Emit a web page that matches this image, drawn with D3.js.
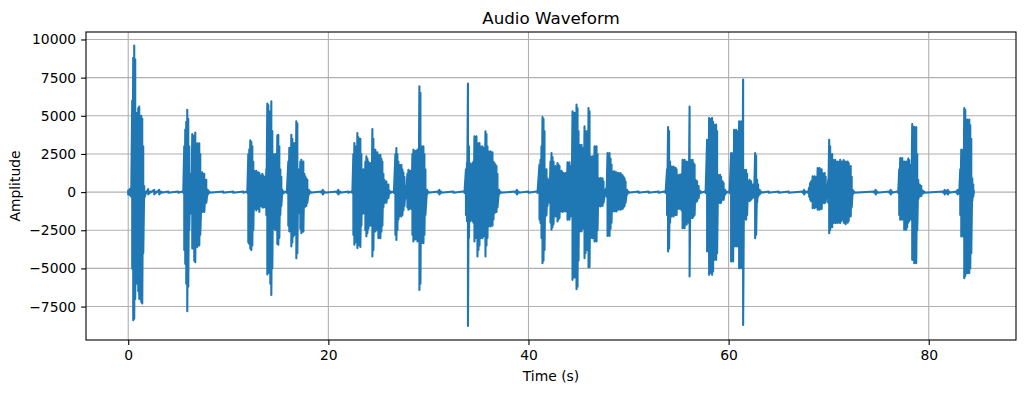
<!DOCTYPE html>
<html>
<head>
<meta charset="utf-8">
<script src="https://cdnjs.cloudflare.com/ajax/libs/d3/7.8.5/d3.min.js"></script>
<style>
  body { margin: 0; background: #fff; }
  text { font-family: "DejaVu Sans", sans-serif; fill: #000; }
</style>
</head>
<body>
<script>
// envelope of the waveform: [time s, max, min]
let envelope = [
  [0.0,150,-150],[0.15,200,-200],[0.3,300,-300],
  [0.4,6000,-5000],[0.5,8800,-8400],[0.6,9600,-8300],[0.7,8700,-7000],[0.8,5200,-6000],[0.9,4500,-5000],
  [1.0,5500,-6500],[1.1,5600,-7000],[1.2,4000,-5500],[1.3,5000,-7200],[1.4,4800,-7300],[1.5,3000,-4000],[1.6,400,-400],
  [1.8,40,-40],[2.0,200,-150],[2.2,40,-40],[2.6,150,-150],[2.8,40,-40],[3.1,150,-150],[3.3,40,-40],[4.0,40,-40],[5.0,40,-40],[5.5,50,-50],
  [5.6,3000,-3800],[5.7,4100,-4700],[5.8,4600,-6000],[5.9,5400,-7800],[6.0,4800,-6200],[6.1,3000,-2500],[6.2,800,-800],[6.3,1200,-1400],
  [6.4,3800,-3700],[6.5,3500,-3000],[6.6,3700,-4500],[6.7,3900,-4600],[6.8,3000,-3300],[6.9,3200,-3600],[7.0,2800,-3000],[7.1,3200,-3500],
  [7.2,2500,-2800],[7.4,1300,-1300],[7.6,1200,-1300],[7.8,800,-700],[7.95,150,-150],
  [8.1,40,-40],[9.5,40,-40],[10.5,40,-40],[11.5,40,-40],[11.9,60,-60],
  [12.0,2500,-3300],[12.1,2800,-3400],[12.2,3400,-3700],[12.3,3300,-3800],[12.4,3000,-3500],[12.5,2000,-2500],[12.6,1400,-1100],
  [12.7,1200,-1000],[12.8,1400,-1200],[12.9,1100,-900],[13.0,1300,-1100],[13.1,1250,-1300],[13.2,1100,-900],[13.3,1000,-900],
  [13.4,1200,-1000],[13.5,1100,-1000],[13.6,900,-800],[13.7,1000,-1000],[13.8,1500,-1500],[13.9,5800,-5400],[14.0,5700,-5300],
  [14.1,5000,-4500],[14.2,5300,-6000],[14.3,5950,-6740],[14.4,4000,-5000],[14.5,2500,-2400],[14.6,2300,-2200],[14.7,2500,-2500],
  [14.8,2000,-2000],[14.9,3700,-3400],[15.0,3760,-3450],[15.1,3000,-3000],[15.2,1500,-1500],[15.3,1000,-900],[15.4,150,-150],
  [15.55,40,-40],[15.85,60,-60],
  [16.0,2000,-2200],[16.1,2900,-2580],[16.2,2700,-2500],[16.3,3760,-3565],[16.4,3500,-3300],[16.5,3200,-2900],[16.6,3215,-2800],
  [16.7,3000,-2700],[16.8,4640,-4330],[16.9,4500,-4000],[17.0,1500,-1400],[17.1,1300,-1200],[17.2,2000,-2400],[17.3,2120,-2690],
  [17.4,1900,-2500],[17.5,2000,-2600],[17.6,1200,-1000],[17.7,1030,-940],[17.8,900,-900],[17.9,800,-700],[18.05,150,-150],
  [18.2,40,-40],[19.3,40,-40],[19.45,150,-150],[19.6,40,-40],[20.85,40,-40],[21.0,150,-150],[21.15,40,-40],[22.0,40,-40],[22.4,60,-60],
  [22.5,2500,-2800],[22.6,3215,-3450],[22.7,3000,-3300],[22.8,2800,-3000],[22.9,3870,-3670],[23.0,3600,-3500],[23.1,3300,-3000],
  [23.2,3500,-3600],[23.3,2500,-2200],[23.4,1300,-1300],[23.5,1500,-1400],[23.6,1200,-1100],[23.7,2000,-2500],[23.8,2340,-2900],
  [23.9,2200,-2700],[24.0,2000,-2400],[24.1,1800,-2000],[24.2,1900,-2200],[24.3,1700,-1800],[24.4,4130,-4220],[24.5,3500,-3800],
  [24.6,2500,-2400],[24.7,2780,-2580],[24.8,2500,-2300],[24.9,2600,-2500],[25.0,2450,-3020],[25.1,2300,-2800],[25.2,2450,-3020],
  [25.3,2200,-2600],[25.4,2000,-2200],[25.5,1200,-1000],[25.6,810,-720],[25.8,700,-700],[26.0,500,-400],[26.1,100,-100],
  [26.25,40,-40],[26.55,60,-60],
  [26.7,2500,-2800],[26.8,2890,-3130],[26.9,2500,-2500],[27.0,2000,-1800],[27.1,1790,-1600],[27.2,1500,-1400],[27.3,1790,-1600],
  [27.4,1500,-1500],[27.5,1300,-1200],[27.6,1000,-900],[27.75,400,-400],[27.9,1200,-1000],[28.0,1465,-1160],[28.1,1300,-1100],
  [28.2,1400,-1000],[28.3,1200,-1100],[28.4,2500,-2800],[28.5,2780,-3240],[28.6,2600,-3000],[28.7,2700,-3100],[28.8,2500,-2900],
  [28.9,2780,-3240],[29.0,2500,-2500],[29.1,6930,-6410],[29.2,6500,-6000],[29.3,3000,-3350],[29.4,2800,-3000],[29.5,3000,-3350],
  [29.6,2500,-2800],[29.7,1500,-1500],[29.85,150,-150],
  [30.0,40,-40],[30.95,40,-40],[31.1,150,-150],[31.25,40,-40],[32.5,40,-40],[33.6,60,-60],
  [33.75,1500,-1500],[33.85,1900,-1900],[33.95,7110,-8770],[34.05,3000,-3000],[34.15,1900,-1920],[34.3,1800,-1800],[34.4,1900,-1920],
  [34.5,2000,-2000],[34.6,3650,-3240],[34.7,3400,-3000],[34.8,3650,-3000],[34.9,3215,-4220],[35.0,3000,-3800],[35.1,3215,-3500],
  [35.2,3000,-3020],[35.3,2800,-2800],[35.4,3000,-3020],[35.5,2900,-2900],[35.6,2700,-2800],[35.7,3980,-4220],[35.8,3800,-3500],
  [35.9,3000,-3000],[36.0,2670,-2250],[36.1,2500,-2200],[36.2,2670,-2250],[36.3,2400,-2100],[36.4,2600,-2200],[36.5,2000,-1800],
  [36.6,1900,-1380],[36.7,1800,-1300],[36.8,1700,-1300],[36.9,1200,-1000],[37.05,150,-150],
  [37.2,40,-40],[38.7,40,-40],[38.85,150,-150],[39.0,40,-40],[40.0,40,-40],[40.9,60,-60],
  [41.1,1800,-1800],[41.2,2120,-2030],[41.3,3000,-3000],[41.4,4920,-4660],[41.5,4800,-4500],[41.6,4000,-3800],[41.7,1500,-1600],
  [41.8,1500,-1500],[41.9,900,-900],[42.0,500,-500],[42.1,800,-700],
  [42.2,2000,-2000],[42.3,2560,-2470],[42.4,2300,-2300],[42.5,2000,-2100],[42.6,1500,-1500],[42.7,1700,-1600],[42.8,1400,-1300],
  [42.9,1900,-1920],[43.0,1800,-1800],[43.1,1700,-1700],[43.2,1250,-1270],[43.3,1400,-1200],[43.4,1300,-1300],[43.5,1250,-1270],
  [43.6,1100,-1100],[43.7,1250,-1270],[43.8,1100,-1100],[43.9,1950,-1815],[44.0,1800,-1700],[44.1,1950,-1815],[44.2,1700,-1600],
  [44.3,1500,-1500],
  [44.4,5290,-5750],[44.5,5000,-5500],[44.6,5200,-5600],[44.7,4500,-5000],[44.8,5730,-6360],[44.9,5500,-6200],[45.0,4000,-4500],
  [45.1,3100,-2580],[45.2,2800,-2500],[45.3,3100,-2580],[45.4,2900,-2400],[45.5,2500,-2300],[45.6,4310,-4330],[45.7,4000,-4000],
  [45.8,3500,-3600],[45.9,4000,-3800],[46.0,5510,-4920],[46.1,5300,-4900],[46.2,2340,-3020],[46.3,2200,-2800],[46.4,2340,-3020],
  [46.5,2100,-2500],[46.6,3000,-3240],[46.7,2800,-3000],[46.8,3000,-3240],[46.9,2500,-2500],[47.0,920,-940],[47.1,850,-800],
  [47.2,920,-940],[47.3,800,-800],[47.4,900,-900],[47.5,700,-700],[47.65,150,-150],
  [47.8,300,-300],[47.9,2560,-2870],[48.0,2400,-2600],[48.1,2560,-2870],[48.2,2200,-2400],[48.3,1800,-2000],[48.4,1360,-1270],
  [48.5,1300,-1200],[48.6,1360,-1270],[48.7,1200,-1200],[48.8,1300,-1270],[48.9,1200,-1100],[49.0,1250,-1160],[49.1,1100,-1000],
  [49.2,1250,-1160],[49.3,1150,-1000],[49.4,1100,-1100],[49.5,1000,-1000],[49.6,900,-900],[49.7,700,-700],[49.85,150,-150],
  [50.0,40,-40],[51.0,40,-40],[52.0,40,-40],[53.0,40,-40],[53.7,60,-60],
  [53.85,1500,-1500],[53.95,4260,-3890],[54.05,4000,-3700],[54.15,2000,-2000],[54.3,1680,-1600],[54.4,1500,-1500],[54.5,1680,-1600],
  [54.6,1400,-1400],[54.7,1600,-1500],[54.8,1500,-1500],[54.9,1140,-1100],[55.0,1000,-1000],[55.1,1140,-1100],[55.2,1000,-1000],
  [55.3,1200,-1200],[55.4,2120,-2360],[55.5,2000,-2200],[55.6,2120,-2360],[55.7,1900,-2000],[55.8,2000,-2140],[55.9,1800,-1900],
  [56.0,2000,-2000],[56.1,5600,-5530],[56.2,2120,-1700],[56.3,2000,-1700],[56.4,2120,-1700],[56.5,1900,-1600],[56.6,1800,-1500],
  [56.7,800,-700],[56.85,700,-600],[57.0,400,-400],[57.1,100,-100],
  [57.25,40,-40],[57.7,60,-60],
  [57.85,3430,-3890],[57.95,3200,-3700],[58.05,4860,-5420],[58.15,4500,-5000],[58.25,4800,-5300],[58.35,4860,-5420],[58.45,4600,-5200],
  [58.55,4420,-4440],[58.65,4200,-4300],[58.75,4420,-4440],[58.85,4000,-4000],[58.95,1140,-720],[59.05,1000,-700],[59.15,1140,-720],
  [59.25,1000,-700],[59.4,700,-500],[59.5,600,-500],[59.65,150,-150],
  [59.8,40,-40],[60.1,60,-60],
  [60.25,2560,-4550],[60.35,2400,-4200],[60.45,2560,-4550],[60.55,4090,-3565],[60.65,3800,-3400],[60.75,4090,-3565],[60.85,3900,-3500],
  [60.95,4000,-3565],[61.05,4640,-4990],[61.15,4400,-4800],[61.25,4640,-4990],[61.35,4500,-4800],[61.45,7370,-8700],[61.55,1465,-1815],
  [61.65,1400,-1700],[61.75,1465,-1815],[61.85,1200,-1500],[61.95,700,-500],[62.1,800,-600],[62.25,700,-500],[62.4,500,-400],
  [62.55,300,-300],[62.65,2560,-3020],[62.75,2400,-2800],[62.85,800,-700],[62.95,500,-300],[63.1,150,-150],
  [63.25,40,-40],[64.0,40,-40],[65.0,40,-40],[66.0,40,-40],[67.4,40,-40],[67.55,150,-150],[67.7,40,-40],[67.95,60,-60],
  [68.05,300,-300],[68.15,600,-500],[68.25,700,-600],[68.4,1030,-1050],[68.5,900,-1000],[68.6,1030,-1050],[68.7,800,-900],
  [68.8,1000,-1000],[68.9,1575,-1160],[69.0,1400,-1100],[69.1,1575,-1160],[69.2,1300,-1000],[69.3,1500,-1100],[69.4,1250,-720],
  [69.5,1100,-700],[69.6,1250,-720],[69.7,1000,-650],[69.85,500,-400],[69.95,800,-700],[70.05,3430,-2690],[70.15,3000,-2500],
  [70.25,1500,-1500],[70.35,2500,-2300],[70.45,2120,-2030],[70.55,2000,-1900],[70.65,2120,-2030],[70.75,1900,-1800],[70.85,2000,-2030],
  [70.95,1800,-1700],[71.05,2000,-2000],[71.15,2120,-2030],[71.25,1900,-1900],[71.35,2000,-1800],[71.5,2100,-2000],[71.6,1900,-2000],
  [71.7,2000,-2100],[71.8,1800,-1800],[71.9,2000,-2000],[72.0,1900,-1900],[72.1,1500,-1500],[72.2,1700,-1600],[72.3,1000,-1000],
  [72.4,150,-150],
  [72.55,40,-40],[74.55,40,-40],[74.7,150,-150],[74.85,40,-40],[76.05,40,-40],[76.2,150,-150],[76.35,40,-40],[76.95,60,-60],
  [77.05,1500,-1500],[77.15,2230,-1815],[77.25,2000,-1700],[77.35,2230,-1815],[77.45,2000,-1600],[77.55,2010,-2470],[77.65,1800,-2200],
  [77.75,2010,-2470],[77.85,1900,-2300],[77.95,2200,-2000],[78.05,2100,-1900],[78.15,1500,-1500],[78.25,1800,-1800],[78.35,4460,-4440],
  [78.45,4300,-4200],[78.55,4260,-4660],[78.65,4000,-4400],[78.75,4260,-4660],[78.85,2500,-2500],[78.95,800,-500],[79.1,500,-300],
  [79.25,400,-250],[79.4,100,-100],
  [79.55,40,-40],[81.45,40,-40],[81.6,150,-150],[81.75,60,-60],[81.9,150,-150],[82.05,40,-40],[82.75,40,-40],[82.9,150,-150],[83.05,80,-80],
  [83.15,1500,-1500],[83.25,2780,-2910],[83.35,2600,-2800],[83.45,2780,-2910],[83.55,5510,-5640],[83.65,5400,-5500],[83.75,4000,-4500],
  [83.85,4750,-5310],[83.95,4500,-5000],[84.05,4750,-5310],[84.15,4400,-5000],[84.25,3500,-4000],[84.35,900,-600],[84.45,500,-300],
  [84.5,100,-100]
]

let xTicks = [0, 20, 40, 60, 80]
let yTicks = [-7500, -5000, -2500, 0, 2500, 5000, 7500, 10000]
let xDomain = [-4.22, 88.72]
let yDomain = [-9690, 10490]

let w = 1025
let h = 393
let padL = 86, padR = 1016, padT = 32, padB = 340
let blue = "#1f77b4"
let grey = "#b0b0b0"

let svg = d3.select("body").append("svg")
  .attr("width", w)
  .attr("height", h)

let xScale = d3.scaleLinear().domain(xDomain).range([padL, padR])
let yScale = d3.scaleLinear().domain(yDomain).range([padB, padT])

// grid
svg.append("g").selectAll("line")
  .data(xTicks)
  .enter()
  .append("line")
  .attr("x1", d => xScale(d)).attr("x2", d => xScale(d))
  .attr("y1", padT).attr("y2", padB)
  .attr("stroke", grey).attr("stroke-width", 1.1)

svg.append("g").selectAll("line")
  .data(yTicks)
  .enter()
  .append("line")
  .attr("x1", padL).attr("x2", padR)
  .attr("y1", d => yScale(d)).attr("y2", d => yScale(d))
  .attr("stroke", grey).attr("stroke-width", 1.1)

// waveform: go up and down through each envelope column
let pts = []
envelope.forEach(d => {
  pts.push([d[0], d[1]])
  pts.push([d[0], d[2]])
})

let line = d3.line()
  .x(d => xScale(d[0]))
  .y(d => yScale(d[1]))

svg.append("path")
  .datum(pts)
  .attr("d", line)
  .attr("fill", "none")
  .attr("stroke", blue)
  .attr("stroke-width", 2.1)
  .attr("stroke-linejoin", "round")

// axes
let xAxis = d3.axisBottom(xScale)
  .tickValues(xTicks)
  .tickSize(4.9)
  .tickPadding(4.9)
  .tickFormat(d3.format("d"))

svg.append("g")
  .attr("transform", "translate(0," + padB + ")")
  .call(xAxis)
  .call(g => g.select(".domain").remove())

let yAxis = d3.axisLeft(yScale)
  .tickValues(yTicks)
  .tickSize(4.9)
  .tickPadding(4.9)
  .tickFormat(d3.format("d"))

svg.append("g")
  .attr("transform", "translate(" + padL + ",0)")
  .call(yAxis)
  .call(g => g.select(".domain").remove())

svg.selectAll(".tick line").attr("stroke", "#000").attr("stroke-width", 1.1)
svg.selectAll(".tick text")
  .style("font-family", "DejaVu Sans")
  .style("font-size", "13.9px")
  .attr("fill", "#000")

// frame
svg.append("rect")
  .attr("x", padL).attr("y", padT)
  .attr("width", padR - padL).attr("height", padB - padT)
  .attr("fill", "none")
  .attr("stroke", "#000")
  .attr("stroke-width", 1.1)

svg.append("text")
  .text("Audio Waveform")
  .attr("x", (padL + padR) / 2)
  .attr("y", 24)
  .attr("text-anchor", "middle")
  .style("font-size", "16.7px")

svg.append("text")
  .text("Time (s)")
  .attr("x", (padL + padR) / 2)
  .attr("y", 381)
  .attr("text-anchor", "middle")
  .style("font-size", "13.9px")

svg.append("text")
  .text("Amplitude")
  .attr("transform", "translate(20," + ((padT + padB) / 2) + ") rotate(-90)")
  .attr("text-anchor", "middle")
  .style("font-size", "13.9px")
</script>
</body>
</html>
